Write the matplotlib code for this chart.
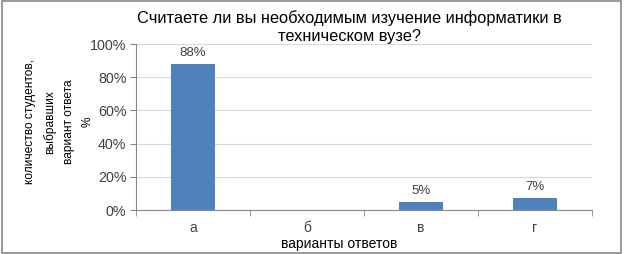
import matplotlib.pyplot as plt
from matplotlib.patches import Rectangle

categories = ["а", "б", "в", "г"]
values = [88, 0, 5, 7]
value_labels = ["88%", "", "5%", "7%"]
yticks = [0, 20, 40, 60, 80, 100]

plt.rcParams["font.family"] = ["Liberation Sans", "DejaVu Sans"]

fig = plt.figure(figsize=(6.24, 2.54), dpi=100)
ax = fig.add_axes([136 / 624, 1 - 210 / 254, (592 - 136) / 624, (210 - 44) / 254])

x = range(len(categories))
bars = ax.bar(x, values, width=0.39, color="#4F81BD", zorder=3)
for b, lab in zip(bars, value_labels):
    if lab:
        ax.text(b.get_x() + b.get_width() / 2, b.get_height() + 3, lab,
                ha="center", va="bottom", fontsize=9.5, color="#404040")

ax.set_xlim(-0.5, 3.5)
ax.set_ylim(0, 100)
ax.set_yticks(yticks)
ax.set_yticklabels([f"{v}%" for v in yticks], fontsize=10.3, color="#404040")
ax.set_xticks(list(x))
ax.set_xticklabels(categories, fontsize=10, color="#404040")
ax.set_xticks([-0.5, 0.5, 1.5, 2.5, 3.5], minor=True)
ax.tick_params(axis="x", which="major", length=0, pad=8)
ax.tick_params(axis="x", which="minor", length=4, direction="out", color="#888888")
ax.tick_params(axis="y", length=4, color="#888888", pad=3)
ax.grid(axis="y", color="#D9D9D9", linewidth=0.8, zorder=0)
for s in ["top", "right"]:
    ax.spines[s].set_visible(False)
ax.spines["left"].set_color("#888888")
ax.spines["bottom"].set_color("#888888")

fig.text(339 / 624, 1 - 244 / 254, "варианты ответов", ha="center", va="center", fontsize=10)
fig.text(59 / 624, 1 - 122 / 254, "количество студентов,\nвыбравших\nвариант ответа\n%",
         rotation=90, ha="center", va="center", multialignment="center",
         fontsize=8.6, linespacing=1.75)

fig.text(349 / 624, 1 - 27 / 254, "Считаете ли вы необходимым изучение информатики в\nтехническом вузе?",
         ha="center", va="center", fontsize=11.8, linespacing=1.2)

fig.patches.append(Rectangle((0.003, 0.005), 0.992, 0.99, transform=fig.transFigure,
                             fill=False, edgecolor="#888888", linewidth=1.2))

fig.savefig("out.png", dpi=100)
